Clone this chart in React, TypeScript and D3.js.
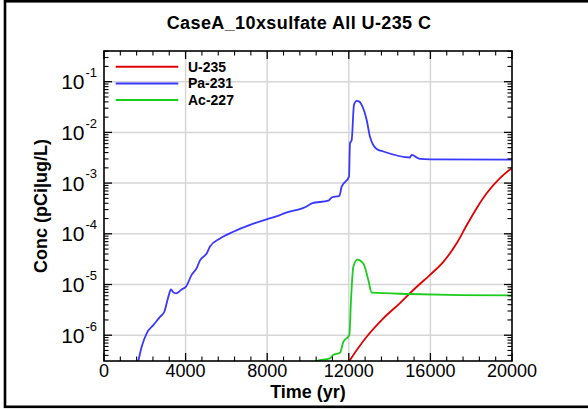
import React from "react";
import * as d3 from "d3";

const TITLE = "CaseA_10xsulfate All U-235 C";
const X_LABEL = "Time (yr)";
const Y_LABEL = "Conc (pCi|ug/L)";
const X_TICKS = [0, 4000, 8000, 12000, 16000, 20000];
const Y_EXPONENTS = [-1, -2, -3, -4, -5, -6];

const SERIES_NAMES = ["U-235", "Pa-231", "Ac-227"];
const SERIES_COLORS = ["#e00000", "#3838ff", "#1ccc1c"];

const u235X = [11900, 12026, 12876, 13693, 14510, 15163, 15980, 16634, 17288, 17778, 18268, 18758, 19412, 20000];
const u235Y = [2.6e-7, 3.1e-7, 9.3e-7, 2.15e-6, 4.3e-6, 7.8e-6, 1.55e-5, 2.8e-5, 6.5e-5, 1.47e-4, 3.2e-4, 6.3e-4, 1.25e-3, 2.0e-3];

const pa231X = [1500, 1680, 1847, 2092, 2418, 2745, 2957, 3153, 3284, 3400, 3529, 3807, 4020, 4297, 4542, 4706, 5033, 5196, 5686, 6340, 7157, 7974, 8627, 8790, 10016, 10180, 10997, 11160, 11536, 11650, 12010, 12058, 12140, 12255, 12386, 12500, 12631, 12876, 13039, 13366, 13693, 15000, 15082, 15490, 15980, 20000];
const pa231Y = [1.6e-7, 3.1e-7, 5.9e-7, 1.09e-6, 1.58e-6, 2.3e-6, 2.9e-6, 5.7e-6, 8.0e-6, 7.0e-6, 6.7e-6, 8.0e-6, 9.1e-6, 1.55e-5, 2.1e-5, 3.0e-5, 4.1e-5, 5.6e-5, 8.1e-5, 1.1e-4, 1.5e-4, 1.93e-4, 2.34e-4, 2.5e-4, 3.6e-4, 4.0e-4, 4.5e-4, 5.2e-4, 5.6e-4, 8.5e-4, 1.34e-3, 6.1e-3, 7.0e-3, 0.035, 0.042, 0.041, 0.035, 0.0176, 8.2e-3, 4.7e-3, 4.2e-3, 3.2e-3, 3.6e-3, 3.0e-3, 2.95e-3, 2.9e-3];

const ac227X = [10000, 10425, 11078, 11242, 11569, 11732, 12026, 12108, 12222, 12418, 12712, 12957, 13121, 15000, 17451, 20000];
const ac227Y = [2.5e-7, 3.1e-7, 3.5e-7, 4.1e-7, 4.5e-7, 7.4e-7, 1.0e-6, 4.9e-6, 2.24e-5, 3.1e-5, 2.6e-5, 1.23e-5, 6.9e-6, 6.5e-6, 6.2e-6, 6.1e-6];

const SERIES_X = [u235X, pa231X, ac227X];
const SERIES_Y = [u235Y, pa231Y, ac227Y];

const W = 588;
const H = 409;
const L = 104;
const R = 512;
const T = 51;
const B = 361;

export default function App() {
  const x = d3.scaleLinear().domain([0, 20000]).range([L, R]);
  const y = d3.scaleLog().domain([3.1e-7, 0.403]).range([B, T]);

  const line = d3
    .line<[number, number]>()
    .x((d) => x(d[0]))
    .y((d) => y(d[1]))
    .curve(d3.curveMonotoneX);

  const minorX = d3.range(0, 20001, 800).filter((v) => v % 4000 !== 0);
  const minorY: number[] = [];
  for (let e = -7; e <= 0; e++) {
    for (let m = 2; m <= 9; m++) {
      const v = m * Math.pow(10, e);
      if (v > 3.1e-7 && v < 0.403) minorY.push(v);
    }
  }
  const font = "'Liberation Sans', Arial, Helvetica, sans-serif";

  return (
    <svg
      width={W}
      height={H}
      style={{ position: "absolute", left: 0, top: 0, background: "#fff" }}
      fontFamily={font}
    >
      <defs>
        <clipPath id="plotClip">
          <rect x={L} y={T} width={R - L} height={B - T} />
        </clipPath>
      </defs>
      <rect x={5} y={1.3} width={650} height={405.5} fill="none" stroke="#000" strokeWidth={2.6} />

      <text x={299} y={29} textAnchor="middle" fontWeight="bold" fontSize={18} letterSpacing={0.4}>
        {TITLE}
      </text>

      {/* gridlines */}
      {X_TICKS.filter((v) => v > 0 && v < 20000).map((v) => (
        <line key={"gx" + v} x1={x(v)} x2={x(v)} y1={T} y2={B} stroke="#d6d6d6" strokeWidth={1.5} />
      ))}
      {Y_EXPONENTS.map((e) => (
        <line key={"gy" + e} x1={L} x2={R} y1={y(Math.pow(10, e))} y2={y(Math.pow(10, e))} stroke="#d6d6d6" strokeWidth={1.5} />
      ))}

      {/* series */}
      <g clipPath="url(#plotClip)">
        {SERIES_NAMES.map((n, i) => (
          <path
            key={n}
            d={line(SERIES_X[i].map((v, j) => [v, SERIES_Y[i][j]] as [number, number])) || ""}
            fill="none"
            stroke={SERIES_COLORS[i]}
            strokeWidth={1.8}
          />
        ))}
      </g>

      {/* ticks */}
      {X_TICKS.map((v) => (
        <g key={"tx" + v}>
          <line x1={x(v)} x2={x(v)} y1={B} y2={B - 8} stroke="#000" strokeWidth={1.3} />
          <line x1={x(v)} x2={x(v)} y1={T} y2={T + 8} stroke="#000" strokeWidth={1.3} />
        </g>
      ))}
      {minorX.map((v) => (
        <g key={"mx" + v}>
          <line x1={x(v)} x2={x(v)} y1={B} y2={B - 4.5} stroke="#000" strokeWidth={1.1} />
          <line x1={x(v)} x2={x(v)} y1={T} y2={T + 4.5} stroke="#000" strokeWidth={1.1} />
        </g>
      ))}
      {Y_EXPONENTS.map((e) => {
        const yy = y(Math.pow(10, e));
        return (
          <g key={"ty" + e}>
            <line x1={L} x2={L + 8} y1={yy} y2={yy} stroke="#000" strokeWidth={1.3} />
            <line x1={R} x2={R - 8} y1={yy} y2={yy} stroke="#000" strokeWidth={1.3} />
          </g>
        );
      })}
      {minorY.map((v, i) => {
        const yy = y(v);
        return (
          <g key={"my" + i}>
            <line x1={L} x2={L + 4.5} y1={yy} y2={yy} stroke="#000" strokeWidth={1.1} />
            <line x1={R} x2={R - 4.5} y1={yy} y2={yy} stroke="#000" strokeWidth={1.1} />
          </g>
        );
      })}

      {/* frame */}
      <rect x={L} y={T} width={R - L} height={B - T} fill="none" stroke="#000" strokeWidth={1.6} />

      {/* x tick labels */}
      {X_TICKS.map((v) => (
        <text key={"lx" + v} x={x(v)} y={B + 16} textAnchor="middle" fontSize={18}>
          {v}
        </text>
      ))}
      {/* y tick labels */}
      {Y_EXPONENTS.map((e) => {
        const yy = y(Math.pow(10, e));
        return (
          <g key={"ly" + e}>
            <text x={84.5} y={yy + 7.5} textAnchor="end" fontSize={21}>
              10
            </text>
            <text x={85.5} y={yy - 4.7} textAnchor="start" fontSize={13}>
              {String(e)}
            </text>
          </g>
        );
      })}

      <text x={308} y={398} textAnchor="middle" fontWeight="bold" fontSize={18}>
        {X_LABEL}
      </text>
      <text transform="translate(47,206) rotate(-90)" textAnchor="middle" fontWeight="bold" fontSize={18}>
        {Y_LABEL}
      </text>

      {/* legend */}
      {SERIES_NAMES.map((n, i) => {
        const ly = 66.7 + i * 16.7;
        return (
          <g key={"lg" + n}>
            <line x1={115.7} x2={178.3} y1={ly} y2={ly} stroke={SERIES_COLORS[i]} strokeWidth={2} />
            <text x={188} y={ly + 5} fontWeight="bold" fontSize={14}>
              {n}
            </text>
          </g>
        );
      })}
    </svg>
  );
}
